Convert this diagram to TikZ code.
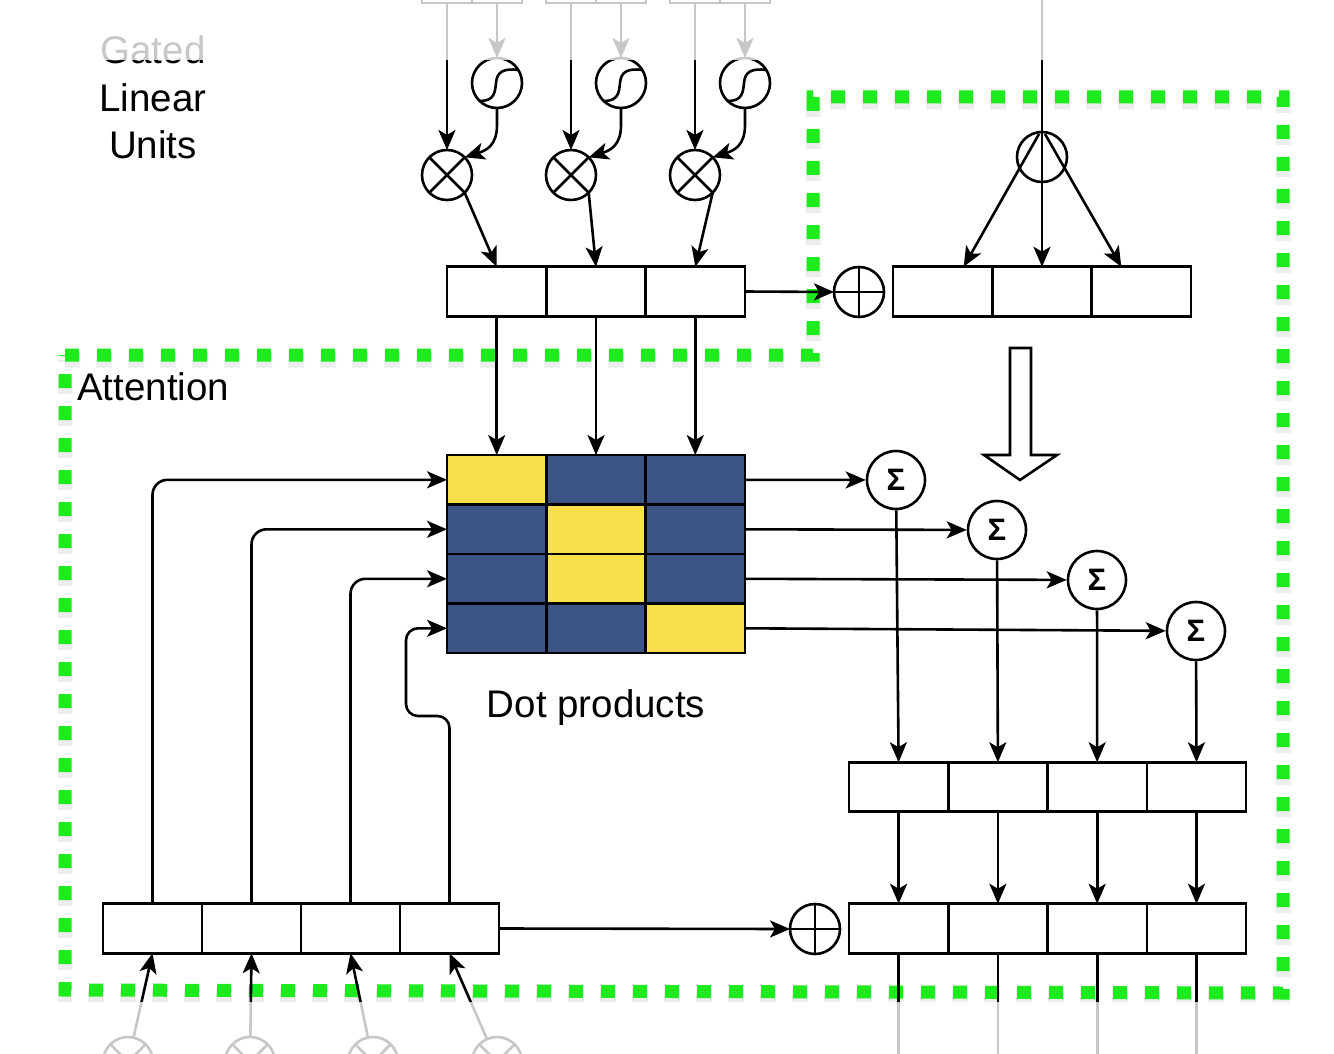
\documentclass[tikz,border=0pt]{standalone}
\usepackage{fontspec}
\setmainfont{Liberation Sans}
\usetikzlibrary{arrows.meta,calc}
\definecolor{dyel}{HTML}{F8E04C}
\definecolor{dnavy}{HTML}{3C5587}
\definecolor{dgreen}{RGB}{30,235,30}
\begin{document}
\begin{tikzpicture}[x=1pt,y=-1pt,
  ln/.style={line width=2.6pt},
  arr/.style={line width=2.6pt,-{Stealth[length=20pt,width=17pt,inset=5pt]}},
  cell/.style={draw,line width=2.6pt,minimum width=99.3pt,minimum height=49.5pt,inner sep=0pt,outer sep=0pt},
  tcell/.style={draw,line width=2.6pt,minimum width=50pt,minimum height=50pt,inner sep=0pt,outer sep=0pt},
  ring/.style={circle,draw,line width=2.6pt,minimum size=50pt,inner sep=0pt,outer sep=0pt},
  otimes/.style={ring,path picture={\draw[line width=2.6pt] (path picture bounding box.north west) -- (path picture bounding box.south east) (path picture bounding box.north east) -- (path picture bounding box.south west);}},
  oplus/.style={ring,path picture={\draw[line width=2.6pt] (path picture bounding box.north) -- (path picture bounding box.south) (path picture bounding box.west) -- (path picture bounding box.east);}},
  sumnode/.style={circle,draw,line width=2.6pt,minimum size=58pt,inner sep=0pt,font=\fontsize{31}{31}\selectfont\bfseries},
  lbl/.style={font=\fontsize{38.5}{46}\selectfont,inner sep=0pt},
  greenbox/.style={draw=dgreen,line width=13pt,dash pattern=on 14pt off 18pt,line cap=butt,line join=miter},
  shadowbox/.style={draw=black,opacity=0.07,line width=15pt,dash pattern=on 16pt off 16pt,line cap=butt}
]
\useasboundingbox (0,0) rectangle (1334,1054);
\fill[white] (0,0) rectangle (1334,1054);

% green region
\begin{scope}[shift={(0,5)}]
\draw[shadowbox,dash phase=1pt] (65,355) -- (813,355) -- (813,97) -- (1283,97) -- (1283,993) -- (65,990) -- cycle;
\end{scope}
\draw[greenbox] (65,355) -- (813,355) -- (813,97) -- (1283,97) -- (1283,993) -- (65,990) -- cycle;

% labels
\node[lbl,anchor=base] (gl1) at (153,64) {Gated};
\node[lbl,anchor=base] (gl2) at (153,112) {Linear};
\node[lbl,anchor=base] (gl3) at (153,159) {Units};
\node[lbl,anchor=base west] (att) at (77,400) {Attention};
\node[lbl,anchor=base] (dot) at (596,717) {Dot products};

% top input boxes
\foreach \i/\x in {1/447,2/571,3/695}{
  \node[tcell] (ta\i) at (\x,-22) {};
  \node[tcell] (tb\i) at (\x+50,-22) {};
  \node[otimes] (x\i) at (\x,175) {};
  \node[ring] (s\i) at (\x+50,83) {};
  \begin{scope}[shift={(s\i)}]
    \draw[ln] (-17,18) .. controls (-3,18) and (-2,10) .. (-1,0) .. controls (0,-11) and (6,-15) .. (22,-13);
  \end{scope}
  \draw[arr] (ta\i.south) -- (x\i.north);
  \draw[arr] (tb\i.south) -- (s\i.north);
  \draw[arr] (s\i.south) -- ++(0,17) .. controls ($(s\i.south)+(0,37)$) and ($(x\i.north east)+(22,-7)$) .. (x\i.north east);
}

% GLU output box
\foreach \i/\x in {1/496.7,2/596,3/695.3}{
  \node[cell] (g\i) at (\x,291.5) {};
}
\draw[arr] (x1.south east) -- (g1.north);
\draw[arr] (x2.south east) -- (g2.north);
\draw[arr] (x3.south east) -- (g3.north);

% residual add top
\node[oplus] (a1) at (859,292) {};
\draw[arr] (g3.east) -- (a1.west);
\foreach \i/\x in {1/942.7,2/1042,3/1141.3}{
  \node[cell] (r\i) at (\x,291.5) {};
}
\node[ring] (sp) at (1042,157) {};
\coordinate (topin) at (1042,-5);
\draw[arr] (topin) -- (r2.north);
\draw[arr] ($(sp.north)+(-3,2)$) -- ($(r1.north)+(21,0)$);
\draw[arr] ($(sp.north)+(3,2)$) -- ($(r3.north)+(-20,0)$);

% hollow arrow
\draw[ln,line join=miter] (1010,348) -- (1031,348) -- (1031,455) -- (1057,455) -- (1020,480) -- (984,455) -- (1010,455) -- cycle;

% dot-product matrix
\foreach \r/\c/\col in {1/1/dyel,1/2/dnavy,1/3/dnavy,2/1/dnavy,2/2/dyel,2/3/dnavy,3/1/dnavy,3/2/dyel,3/3/dnavy,4/1/dnavy,4/2/dnavy,4/3/dyel}{
  \node[cell,fill=\col] (m\r\c) at ({397.4+99.3*\c},{430.3+49.5*\r}) {};
}
\draw[arr] (g1.south) -- (m11.north);
\draw[arr] (g2.south) -- (m12.north);
\draw[arr] (g3.south) -- (m13.north);

% sums
\node[sumnode] (S1) at (896,480) {Σ};
\node[sumnode] (S2) at (997,530) {Σ};
\node[sumnode] (S3) at (1097,580) {Σ};
\node[sumnode] (S4) at (1196,631) {Σ};
\draw[arr] (m13.east) -- (S1);
\draw[arr] (m23.east) -- (S2);
\draw[arr] (m33.east) -- (S3);
\draw[arr] (m43.east) -- (S4);

% output boxes
\foreach \i/\x in {1/898.6,2/997.9,3/1097.2,4/1196.5}{
  \node[cell] (o\i) at (\x,787) {};
  \node[cell] (p\i) at (\x,928.5) {};
  \draw[arr] (o\i.south) -- (p\i.north);
  \draw[ln] (p\i.south) -- ++(0,120);
}
\draw[arr] (S1) -- (o1.north);
\draw[arr] (S2) -- (o2.north);
\draw[arr] (S3) -- (o3.north);
\draw[arr] (S4) -- (o4.north);

% bottom input box
\foreach \i/\x in {1/152.5,2/251.5,3/350.5,4/449.5}{
  \node[cell] (b\i) at (\x,928.5) {};
}
\node[otimes] (q1) at (128,1062) {};
\node[otimes] (q2) at (250,1062) {};
\node[otimes] (q3) at (373,1062) {};
\node[otimes] (q4) at (497,1062) {};
\draw[arr] (q1) -- (b1.south);
\draw[arr] (q2) -- (b2.south);
\draw[arr] (q3) -- (b3.south);
\draw[arr] (q4) -- (b4.south);

\draw[arr,rounded corners=15pt] (b1.north) |- (m11.west);
\draw[arr,rounded corners=15pt] (b2.north) |- (m21.west);
\draw[arr,rounded corners=15pt] (b3.north) |- (m31.west);
\draw[arr,rounded corners=12pt] (b4.north) |- (406,716) |- (m41.west);

\node[oplus] (a2) at (815,929) {};
\draw[arr] (b4.east) -- (a2.west);

% fading at the crop edges
\fill[white,opacity=0.78] (-10,-60) rectangle (1344,60);
\fill[white,opacity=0.78] (-10,1002) rectangle (1344,1110);
\end{tikzpicture}
\end{document}
